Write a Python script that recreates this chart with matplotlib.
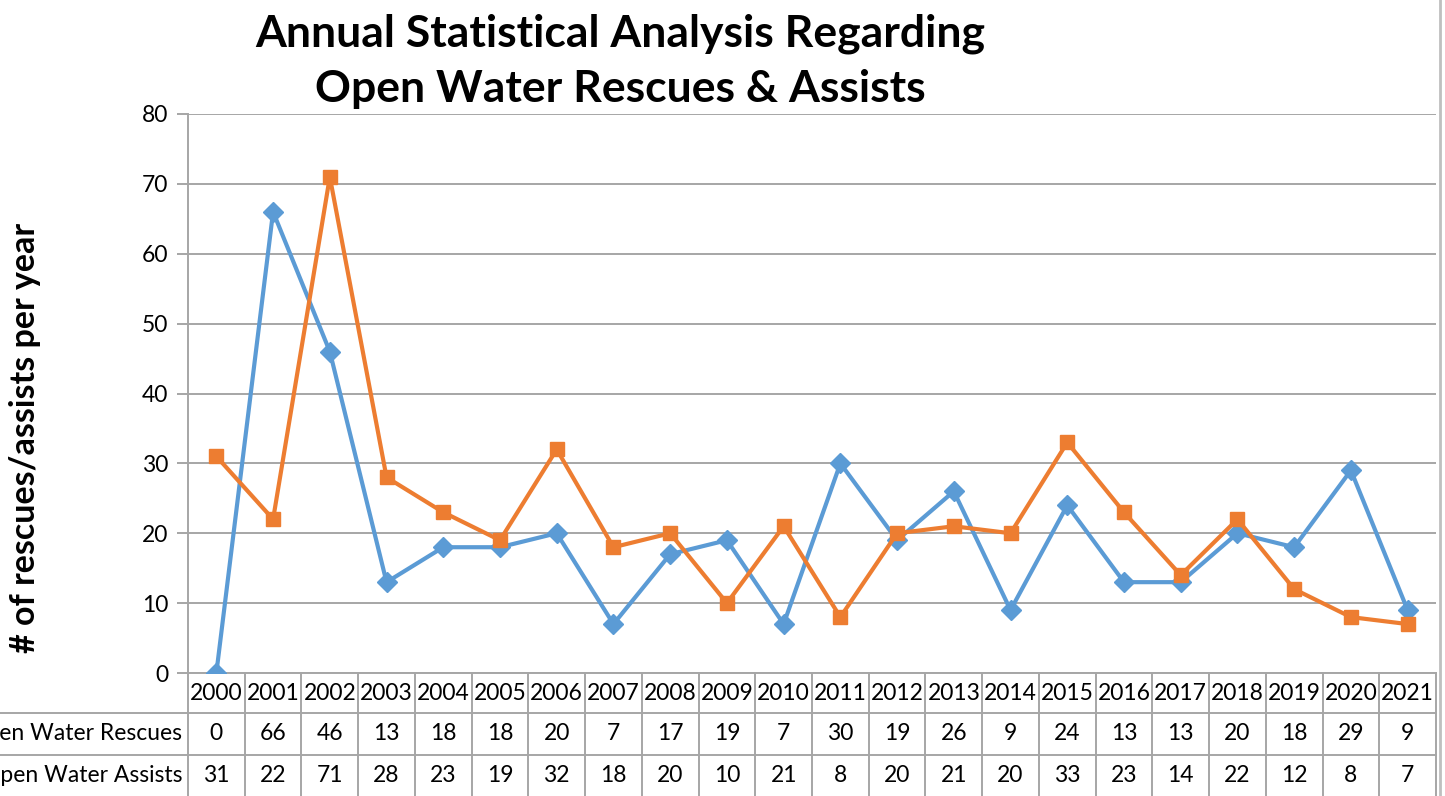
import matplotlib.pyplot as plt
import numpy as np

plt.rcParams['font.family'] = ['Lato', 'DejaVu Sans']

years = ['2000', '2001', '2002', '2003', '2004', '2005', '2006', '2007', '2008', '2009', '2010',
         '2011', '2012', '2013', '2014', '2015', '2016', '2017', '2018', '2019', '2020', '2021']
rescues = [0, 66, 46, 13, 18, 18, 20, 7, 17, 19, 7, 30, 19, 26, 9, 24, 13, 13, 20, 18, 29, 9]
assists = [31, 22, 71, 28, 23, 19, 32, 18, 20, 10, 21, 8, 20, 21, 20, 33, 23, 14, 22, 12, 8, 7]
row_labels = ['Open Water Rescues', 'Open Water Assists']

blue = '#5B9BD5'
orange = '#ED7D31'
grid = '#A6A6A6'

W, H = 1445, 796
fig = plt.figure(figsize=(W / 100, H / 100), dpi=100)
x0, x1, y0, y1 = 188, 1436, 673, 114
ax = fig.add_axes([x0 / W, 1 - y0 / H, (x1 - x0) / W, (y0 - y1) / H])

x = np.arange(len(years))
ax.plot(x, rescues, color=blue, lw=3, marker='D', ms=10, zorder=3)
ax.plot(x, assists, color=orange, lw=3, marker='s', ms=10, zorder=3)

ax.set_xlim(-0.5, len(years) - 0.5)
ax.set_ylim(0, 80)
ax.set_yticks(range(0, 81, 10))
ax.yaxis.grid(True, color=grid, lw=1.4)
ax.set_axisbelow(True)
ax.tick_params(axis='y', length=8, color=grid, width=1.4, labelsize=16.5, pad=6)
ax.set_xticks([])
for s in ['top', 'right']:
    ax.spines[s].set_visible(False)
for s in ['left', 'bottom']:
    ax.spines[s].set_color(grid)
    ax.spines[s].set_linewidth(1.4)

# data table below the axis
ph = y0 - y1
def ay(py):
    return -(py - y0) / ph
tr = ax.get_xaxis_transform()
for py in [713, 755]:
    ax.plot([-0.5 - x0 / (x1 - x0) * 22, len(years) - 0.5], [ay(py)] * 2, color=grid, lw=1.4,
            clip_on=False, transform=tr)
for i in range(len(years) + 1):
    ax.plot([i - 0.5, i - 0.5], [0, ay(800)], color=grid, lw=1.4, clip_on=False, transform=tr)

for i, yr in enumerate(years):
    ax.text(i, ay(693), yr, ha='center', va='center', fontsize=16.5, transform=tr)
    ax.text(i, ay(734), str(rescues[i]), ha='center', va='center', fontsize=16.5, transform=tr)
    ax.text(i, ay(775), str(assists[i]), ha='center', va='center', fontsize=16.5, transform=tr)
# row labels run off the left edge, as in the original
ax.text(-0.6, ay(734), row_labels[0], ha='right', va='center', fontsize=16.5, transform=tr)
ax.text(-0.6, ay(775), row_labels[1], ha='right', va='center', fontsize=16.5, transform=tr)

# right border of the chart
fig.add_artist(plt.Line2D([1440 / W, 1440 / W], [0, 1], color='#BFBFBF', lw=2))

fig.text(620 / W, 1 - 61 / H, 'Annual Statistical Analysis Regarding\nOpen Water Rescues & Assists',
         ha='center', va='center', fontsize=32, fontweight='bold', linespacing=1.45)
fig.text(25 / W, 1 - 438 / H, '# of rescues/assists per year', rotation=90,
         ha='center', va='center', fontsize=24.5, fontweight='bold')

fig.savefig('out.png', dpi=100)
